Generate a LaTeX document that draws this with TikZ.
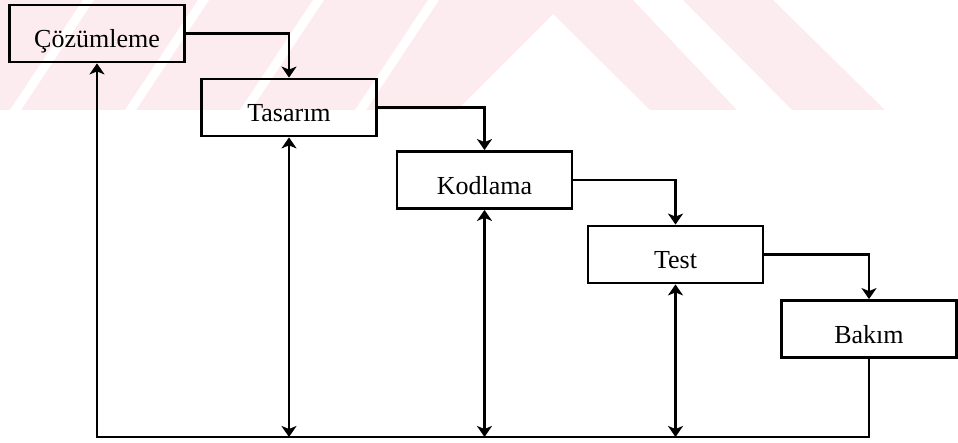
\documentclass[tikz,border=0pt]{standalone}
\usepackage{fontspec}
\setmainfont{Liberation Serif}
\usetikzlibrary{arrows.meta}
\definecolor{wmpink}{RGB}{252,236,239}
\tikzset{
  >={Stealth[length=11pt,width=15pt,inset=3pt]},
  stage/.style={draw, line width=2.8pt, minimum width=175pt, minimum height=57pt,
    inner sep=0pt, font=\fontsize{26}{26}\selectfont, text height=29pt, text depth=0pt},
  flow/.style={line width=2.5pt, ->},
  feedback/.style={line width=2.5pt, <->},
  backline/.style={line width=2.5pt},
  logoband/.style={fill=wmpink, draw=none},
  logogap/.style={fill=white, draw=none}
}
\begin{document}
\begin{tikzpicture}[x=1pt, y=-1pt]
  \useasboundingbox (0,0) rectangle (958,443);

  % faint background logo band
  \fill[logoband] (0,0) -- (633,0) -- (737,110) -- (650,110) -- (553,14) -- (457,110) -- (0,110) -- cycle;
  \fill[logoband] (683,0) -- (773,0) -- (885,110) -- (792,110) -- cycle;
  \foreach \xo in {83,198,313,428}
    \fill[logogap] (\xo,0) -- (\xo+11,0) -- (\xo-62,110) -- (\xo-73,110) -- cycle;

  % phases
  \node[stage] (C) at (97,33.5)    {Çözümleme};
  \node[stage] (T) at (289,107.5)  {Tasarım};
  \node[stage] (K) at (484.5,180)  {Kodlama};
  \node[stage] (E) at (675.5,254.5){Test};
  \node[stage] (B) at (869,329)    {Bakım};

  % forward flow
  \draw[flow] (C.east) -| (T.north);
  \draw[flow] (T.east) -| (K.north);
  \draw[flow] (K.east) -| (E.north);
  \draw[flow] (E.east) -| (B.north);

  % feedback bus
  \coordinate (bl) at (97,437);
  \draw[backline, ->] (B.south) |- (bl) -- (C.south);
  \draw[feedback] (T.south) -- (T.south |- bl);
  \draw[feedback] (K.south) -- (K.south |- bl);
  \draw[feedback] (E.south) -- (E.south |- bl);
\end{tikzpicture}
\end{document}
